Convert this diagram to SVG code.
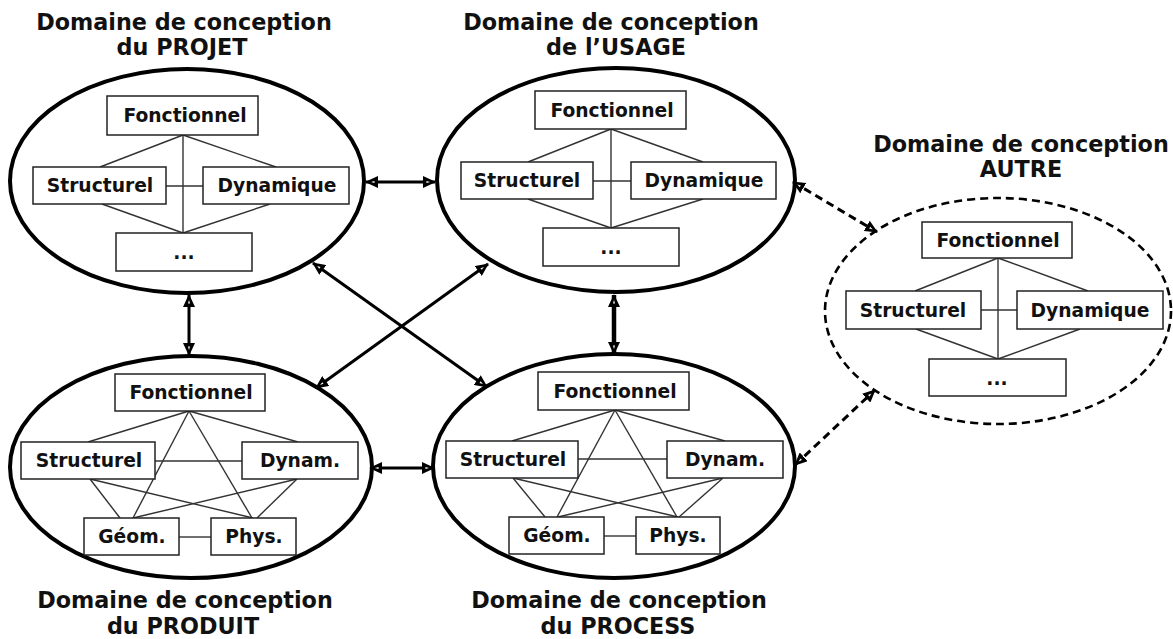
<svg xmlns="http://www.w3.org/2000/svg" width="1173" height="639" viewBox="0 0 1173 639">
<style>
text{font-family:"DejaVu Sans",Verdana,"Liberation Sans",sans-serif;font-weight:bold;fill:#111;text-anchor:middle}
.title{font-size:22.3px}
.lbl{font-size:18.7px}
.dom{fill:#fff;stroke:#000;stroke-width:4}
.domd{fill:#fff;stroke:#000;stroke-width:2.6;stroke-dasharray:8 5}
.box{fill:#fff;stroke:#222;stroke-width:1.5}
.ln{stroke:#333;stroke-width:1.4;fill:none}
.con{stroke:#000;stroke-width:3;fill:none;marker-start:url(#ah);marker-end:url(#ah)}
.conw{stroke-width:4.5}
.cond{stroke:#000;stroke-width:3;fill:none;stroke-dasharray:8 5;marker-start:url(#ah);marker-end:url(#ah)}
</style>
<defs>
<marker id="ah" viewBox="0 0 13 12" refX="12" refY="6" markerWidth="13" markerHeight="12" markerUnits="userSpaceOnUse" orient="auto-start-reverse">
<path d="M0,0 L13,6 L0,12 Z" fill="#000"/>
<path d="M3.5,5 L7,6 L3.5,7 Z" fill="#fff"/>
</marker>
</defs>

<g id="projet">
<ellipse class="dom" cx="187" cy="181" rx="177" ry="112"/>
<g class="ln">
<line x1="183" y1="135" x2="100" y2="167"/><line x1="183" y1="135" x2="276" y2="167"/><line x1="183" y1="135" x2="183" y2="233"/>
<line x1="166" y1="186" x2="203" y2="186"/><line x1="102" y1="204" x2="183" y2="233"/><line x1="270" y1="204" x2="183" y2="233"/>
</g>
<rect class="box" x="107" y="96" width="151" height="39"/><text class="lbl" x="185" y="122">Fonctionnel</text>
<rect class="box" x="33" y="167" width="133" height="37"/><text class="lbl" x="100" y="192">Structurel</text>
<rect class="box" x="203" y="167" width="146" height="37"/><text class="lbl" x="277" y="192">Dynamique</text>
<rect class="box" x="116" y="233" width="136" height="38"/><text class="lbl" x="184" y="259">...</text>
<text class="title" x="184" y="30">Domaine de conception</text>
<text class="title" x="182" y="55">du PROJET</text>
</g>

<g id="usage">
<ellipse class="dom" cx="616" cy="180" rx="179" ry="112"/>
<g class="ln">
<line x1="611" y1="129" x2="528" y2="162"/><line x1="611" y1="129" x2="703" y2="162"/><line x1="611" y1="129" x2="611" y2="228"/>
<line x1="593" y1="181" x2="631" y2="181"/><line x1="528" y1="199" x2="611" y2="228"/><line x1="703" y1="199" x2="611" y2="228"/>
</g>
<rect class="box" x="535" y="91" width="151" height="38"/><text class="lbl" x="612" y="117">Fonctionnel</text>
<rect class="box" x="461" y="162" width="132" height="37"/><text class="lbl" x="527" y="187">Structurel</text>
<rect class="box" x="631" y="162" width="145" height="37"/><text class="lbl" x="704" y="187">Dynamique</text>
<rect class="box" x="543" y="228" width="136" height="38"/><text class="lbl" x="611" y="254">...</text>
<text class="title" x="611" y="30">Domaine de conception</text>
<text class="title" x="616" y="55">de l’USAGE</text>
</g>

<g id="autre">
<ellipse class="domd" cx="998" cy="311" rx="173" ry="113"/>
<g class="ln">
<line x1="998" y1="258" x2="915" y2="291"/><line x1="998" y1="258" x2="1088" y2="291"/><line x1="998" y1="258" x2="998" y2="359"/>
<line x1="981" y1="310" x2="1017" y2="310"/><line x1="916" y1="329" x2="998" y2="359"/><line x1="1080" y1="329" x2="998" y2="359"/>
</g>
<rect class="box" x="922" y="222" width="150" height="36"/><text class="lbl" x="998" y="247">Fonctionnel</text>
<rect class="box" x="846" y="291" width="135" height="38"/><text class="lbl" x="913" y="317">Structurel</text>
<rect class="box" x="1017" y="291" width="146" height="38"/><text class="lbl" x="1090" y="317">Dynamique</text>
<rect class="box" x="929" y="359" width="137" height="37"/><text class="lbl" x="997" y="385">...</text>
<text class="title" x="1021" y="152">Domaine de conception</text>
<text class="title" x="1021" y="177">AUTRE</text>
</g>

<g id="produit">
<ellipse class="dom" cx="191" cy="467" rx="181" ry="111"/>
<g class="ln">
<line x1="189" y1="411" x2="88" y2="442"/><line x1="189" y1="411" x2="298" y2="442"/><line x1="189" y1="411" x2="133" y2="518"/><line x1="189" y1="411" x2="252" y2="518"/>
<line x1="90" y1="479" x2="120" y2="518"/><line x1="90" y1="479" x2="253" y2="518"/>
<line x1="297" y1="479" x2="133" y2="518"/><line x1="297" y1="479" x2="257" y2="518"/>
<line x1="155" y1="461" x2="242" y2="461"/><line x1="179" y1="537" x2="211" y2="537"/>
</g>
<rect class="box" x="115" y="374" width="150" height="37"/><text class="lbl" x="191" y="399">Fonctionnel</text>
<rect class="box" x="21" y="442" width="134" height="37"/><text class="lbl" x="89" y="467">Structurel</text>
<rect class="box" x="242" y="442" width="116" height="37"/><text class="lbl" x="300" y="467">Dynam.</text>
<rect class="box" x="84" y="518" width="95" height="37"/><text class="lbl" x="132" y="543">Géom.</text>
<rect class="box" x="211" y="518" width="85" height="37"/><text class="lbl" x="254" y="543">Phys.</text>
<text class="title" x="185" y="608">Domaine de conception</text>
<text class="title" x="183" y="634">du PRODUIT</text>
</g>

<g id="process">
<ellipse class="dom" cx="614" cy="466" rx="181" ry="112"/>
<g class="ln">
<line x1="615" y1="410" x2="512" y2="441"/><line x1="615" y1="410" x2="725" y2="441"/><line x1="615" y1="410" x2="557" y2="517"/><line x1="615" y1="410" x2="677" y2="517"/>
<line x1="513" y1="478" x2="545" y2="517"/><line x1="513" y1="478" x2="678" y2="517"/>
<line x1="723" y1="478" x2="558" y2="517"/><line x1="723" y1="478" x2="679" y2="517"/>
<line x1="578" y1="459" x2="667" y2="459"/><line x1="604" y1="536" x2="636" y2="536"/>
</g>
<rect class="box" x="538" y="372" width="151" height="38"/><text class="lbl" x="615" y="398">Fonctionnel</text>
<rect class="box" x="446" y="441" width="132" height="37"/><text class="lbl" x="513" y="466">Structurel</text>
<rect class="box" x="667" y="441" width="116" height="37"/><text class="lbl" x="725" y="466">Dynam.</text>
<rect class="box" x="509" y="517" width="95" height="37"/><text class="lbl" x="557" y="542">Géom.</text>
<rect class="box" x="636" y="517" width="84" height="37"/><text class="lbl" x="678" y="542">Phys.</text>
<text class="title" x="619" y="608">Domaine de conception</text>
<text class="title" x="618" y="634">du PROCESS</text>
</g>

<g id="connectors">
<line class="con" x1="366" y1="182" x2="435" y2="182"/>
<line class="con" x1="313" y1="263" x2="487" y2="387"/>
<line class="con" x1="488" y1="264" x2="316" y2="388"/>
<line class="con" x1="189" y1="295" x2="189" y2="355"/>
<line class="con conw" x1="614" y1="295" x2="614" y2="354"/>
<line class="con" x1="370" y1="468" x2="434" y2="468"/>
<line class="cond" x1="793" y1="182" x2="877" y2="232"/>
<line class="cond" x1="795" y1="465" x2="875" y2="390"/>
</g>
</svg>
